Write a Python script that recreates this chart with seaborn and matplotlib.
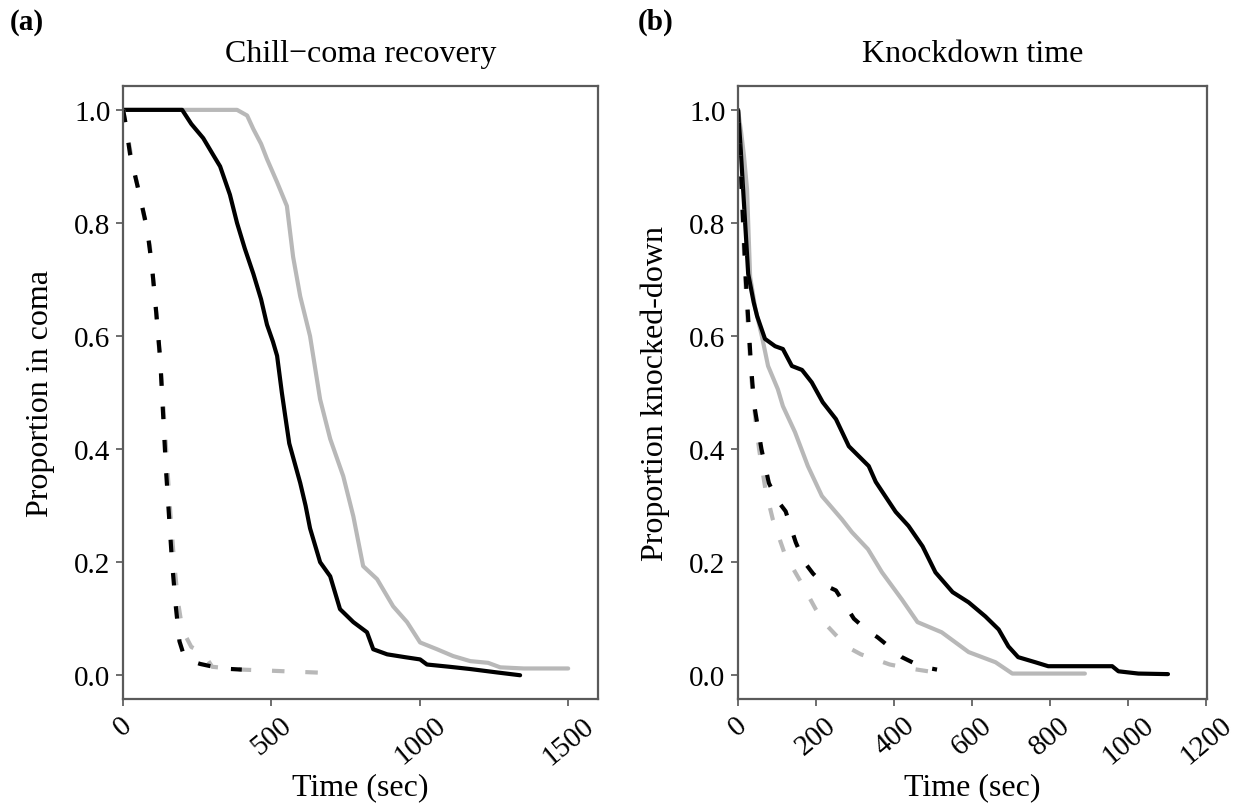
import matplotlib
matplotlib.use("Agg")
import matplotlib.pyplot as plt
import pandas as pd
import seaborn as sns

# panel (a): chill-coma recovery
coma_black_t = [0, 199, 230, 270, 304, 327, 360, 384, 410, 439, 465, 485, 505, 519, 535, 546, 560,
                597, 615, 630, 664, 698, 731, 776, 822, 843, 890, 950, 1001, 1024, 1100, 1170, 1260, 1338]
coma_black_p = [1.0, 1.0, 0.975, 0.95, 0.92, 0.90, 0.85, 0.80, 0.755, 0.71, 0.665, 0.62, 0.59, 0.565, 0.50, 0.46, 0.41,
                0.34, 0.30, 0.26, 0.20, 0.175, 0.117, 0.094, 0.076, 0.046, 0.037, 0.032, 0.028, 0.019, 0.015, 0.011, 0.005, 0.0]
coma_grey_t = [0, 384, 418, 439, 465, 485, 519, 552, 573, 597, 630, 664, 698, 742, 776, 809, 856,
               910, 957, 1001, 1058, 1112, 1170, 1230, 1271, 1350, 1500]
coma_grey_p = [1.0, 1.0, 0.99, 0.966, 0.94, 0.913, 0.872, 0.83, 0.74, 0.67, 0.60, 0.488, 0.418, 0.352, 0.281, 0.193, 0.17,
               0.122, 0.094, 0.058, 0.046, 0.034, 0.025, 0.022, 0.014, 0.012, 0.012]
coma_black_dash_t = [0, 7, 24, 51, 81, 98, 112, 125, 135, 145, 155, 165, 178, 190, 205, 230, 260, 330, 400]
coma_black_dash_p = [1.0, 0.98, 0.92, 0.86, 0.79, 0.72, 0.64, 0.56, 0.46, 0.36, 0.28, 0.2, 0.12, 0.06, 0.035, 0.025, 0.02, 0.012, 0.01]
coma_grey_dash_t = [0, 10, 30, 60, 90, 105, 118, 130, 140, 150, 160, 172, 185, 200, 230, 270, 300, 400, 500, 690]
coma_grey_dash_p = [1.0, 0.97, 0.91, 0.84, 0.76, 0.68, 0.6, 0.52, 0.44, 0.36, 0.28, 0.2, 0.13, 0.08, 0.05, 0.04, 0.015, 0.01, 0.008, 0.004]

# panel (b): knockdown time
kd_black_t = [0, 6, 13, 20, 26, 40, 49, 69, 95, 115, 138, 164, 189, 217, 251, 284, 335, 353, 404, 437, 473,
              506, 550, 591, 634, 668, 693, 718, 762, 795, 959, 975, 1026, 1102]
kd_black_p = [1.0, 0.94, 0.86, 0.78, 0.71, 0.66, 0.635, 0.595, 0.582, 0.577, 0.547, 0.54, 0.518, 0.483, 0.453, 0.405, 0.37,
              0.342, 0.289, 0.264, 0.228, 0.182, 0.147, 0.129, 0.104, 0.081, 0.051, 0.032, 0.023, 0.016, 0.016, 0.007, 0.003, 0.002]
kd_grey_t = [0, 8, 15, 23, 31, 44, 61, 77, 102, 115, 146, 179, 215, 266, 292, 333, 369, 420, 460, 522, 591, 660, 703, 889]
kd_grey_p = [1.0, 0.96, 0.92, 0.86, 0.705, 0.65, 0.60, 0.547, 0.506, 0.476, 0.43, 0.37, 0.317, 0.276, 0.253, 0.223,
             0.182, 0.134, 0.094, 0.076, 0.041, 0.023, 0.003, 0.003]
kd_black_dash_t = [0, 5, 12, 20, 27, 33, 41, 60, 79, 100, 122, 148, 170, 192, 220, 251, 297, 330, 358, 420, 470, 510]
kd_black_dash_p = [1.0, 0.93, 0.82, 0.70, 0.62, 0.55, 0.48, 0.40, 0.34, 0.31, 0.29, 0.235, 0.20, 0.18, 0.16, 0.15, 0.10,
                   0.08, 0.067, 0.032, 0.015, 0.01]
kd_grey_dash_t = [0, 5, 12, 20, 27, 35, 45, 54, 70, 89, 118, 140, 161, 199, 225, 248, 280, 315, 389, 440, 506]
kd_grey_dash_p = [1.0, 0.92, 0.80, 0.68, 0.60, 0.52, 0.45, 0.40, 0.33, 0.276, 0.218, 0.19, 0.165, 0.117, 0.09, 0.073,
                  0.05, 0.037, 0.019, 0.012, 0.005]

SERIES = ["solid_grey", "solid_black", "dashed_grey", "dashed_black"]
PALETTE = {"solid_black": "#000000", "solid_grey": "#b8b8b8",
           "dashed_black": "#000000", "dashed_grey": "#b8b8b8"}
DASHES = {"solid_black": "", "solid_grey": "",
          "dashed_black": (3.0, 5.0), "dashed_grey": (3.0, 5.0)}


def long_frame(curves):
    parts = []
    for name, (t, p) in curves.items():
        parts.append(pd.DataFrame({"time": t, "prop": p, "series": name}))
    return pd.concat(parts, ignore_index=True)


coma = long_frame({
    "solid_grey": (coma_grey_t, coma_grey_p),
    "solid_black": (coma_black_t, coma_black_p),
    "dashed_grey": (coma_grey_dash_t, coma_grey_dash_p),
    "dashed_black": (coma_black_dash_t, coma_black_dash_p),
})
knock = long_frame({
    "solid_grey": (kd_grey_t, kd_grey_p),
    "solid_black": (kd_black_t, kd_black_p),
    "dashed_grey": (kd_grey_dash_t, kd_grey_dash_p),
    "dashed_black": (kd_black_dash_t, kd_black_dash_p),
})

sns.set_theme(style="ticks")
plt.rcParams["font.family"] = ["Liberation Serif", "DejaVu Serif"]
plt.rcParams.update({"text.color": "black", "axes.labelcolor": "black",
                     "xtick.color": "black", "ytick.color": "black"})

fig = plt.figure(figsize=(12.56, 8.04), dpi=100)
ax_a = fig.add_axes([0.098, 0.129, 0.378, 0.763])
ax_b = fig.add_axes([0.5876, 0.129, 0.3734, 0.763])

panels = [
    (ax_a, coma, "Chill\u2212coma recovery", "Proportion in coma", (0, 1600), [0, 500, 1000, 1500], "(a)", 0.008),
    (ax_b, knock, "Knockdown time", "Proportion knocked-down", (0, 1202), [0, 200, 400, 600, 800, 1000, 1200], "(b)", 0.508),
]
for ax, frame, title, ylabel, xlim, xticks, tag, tag_x in panels:
    sns.lineplot(data=frame, x="time", y="prop", hue="series", style="series",
                 hue_order=SERIES, style_order=SERIES,
                 palette=PALETTE, dashes=DASHES, estimator=None, sort=False,
                 linewidth=3.0, legend=False, ax=ax)
    ax.set_xlim(*xlim)
    ax.set_ylim(-0.0425, 1.0425)
    ax.set_xticks(xticks)
    ax.set_yticks([0.0, 0.2, 0.4, 0.6, 0.8, 1.0])
    ax.set_yticklabels([f"{v:.1f}" for v in [0.0, 0.2, 0.4, 0.6, 0.8, 1.0]])
    for lbl in ax.get_xticklabels():
        lbl.set_rotation(40)
        lbl.set_ha("center")
    ax.tick_params(axis="both", labelsize=21, length=5, width=1.2, color="#555555", pad=4)
    for spine in ax.spines.values():
        spine.set_visible(True)
        spine.set_color("#5a5a5a")
        spine.set_linewidth(1.6)
    ax.set_title(title, fontsize=23, pad=18)
    ax.set_xlabel("Time (sec)", fontsize=23, labelpad=2)
    ax.set_ylabel(ylabel, fontsize=23, labelpad=14)
    fig.text(tag_x, 0.972, tag, fontsize=21, fontweight="bold", va="center", ha="left")

fig.savefig("out.png", dpi=100)
